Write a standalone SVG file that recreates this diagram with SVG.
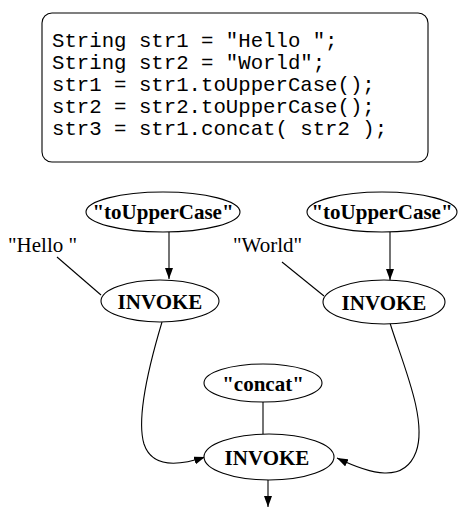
<svg xmlns="http://www.w3.org/2000/svg" width="459" height="508" viewBox="0 0 459 508">
  <style>
    .code { font-family: "Liberation Mono", "Courier New", monospace; font-size: 20.7px; fill: #000; }
    .node ellipse { fill: #fff; stroke: #000; stroke-width: 1.1; }
    .node text { font-family: "Liberation Serif", "Times New Roman", serif; font-weight: bold; font-size: 21px; text-anchor: middle; fill: #000; }
    .lbl { font-family: "Liberation Serif", "Times New Roman", serif; font-size: 21px; fill: #000; }
    .edge { fill: none; stroke: #000; stroke-width: 1.1; }
  </style>
  <defs>
    <marker id="arrow" markerUnits="userSpaceOnUse" markerWidth="11" markerHeight="8" refX="11" refY="4" orient="auto">
      <path d="M0,0 L11,4 L0,8 z" fill="#000"/>
    </marker>
  </defs>

  <!-- source code box -->
  <g id="code">
    <rect x="42" y="13" width="386" height="149" rx="10" ry="10" fill="#fff" stroke="#000" stroke-width="1.1"/>
    <text class="code" x="52" y="47">String str1 = "Hello ";</text>
    <text class="code" x="52" y="69">String str2 = "World";</text>
    <text class="code" x="52" y="91">str1 = str1.toUpperCase();</text>
    <text class="code" x="52" y="113">str2 = str2.toUpperCase();</text>
    <text class="code" x="52" y="135">str3 = str1.concat( str2 );</text>
  </g>

  <!-- connectors -->
  <g id="edges">
    <line class="edge" x1="169" y1="232" x2="169" y2="279" marker-end="url(#arrow)"/>
    <line class="edge" x1="390" y1="232" x2="390" y2="280" marker-end="url(#arrow)"/>
    <line class="edge" x1="57" y1="257" x2="101" y2="295"/>
    <line class="edge" x1="282" y1="262" x2="324" y2="296"/>
    <path class="edge" d="M162,322 C150,362 136,418 144,444 C152,468 178,466 205,457" marker-end="url(#arrow)"/>
    <path class="edge" d="M390,323 C402,362 428,420 416,452 C404,484 370,474 337,458" marker-end="url(#arrow)"/>
    <line class="edge" x1="263" y1="402" x2="263" y2="434"/>
    <line class="edge" x1="268" y1="480" x2="268" y2="507" marker-end="url(#arrow)"/>
  </g>

  <!-- free-standing string literals -->
  <text id="hello" class="lbl" x="8" y="252">"Hello "</text>
  <text id="world" class="lbl" x="233" y="252">"World"</text>

  <g id="upper1" class="node">
    <ellipse cx="163" cy="212" rx="77" ry="20"/>
    <text x="163" y="219">"toUpperCase"</text>
  </g>
  <g id="upper2" class="node">
    <ellipse cx="382" cy="212" rx="75" ry="20"/>
    <text x="382" y="219">"toUpperCase"</text>
  </g>
  <g id="invoke1" class="node">
    <ellipse cx="160" cy="301" rx="59" ry="21"/>
    <text x="160" y="309">INVOKE</text>
  </g>
  <g id="invoke2" class="node">
    <ellipse cx="384" cy="302" rx="61" ry="22"/>
    <text x="384" y="310">INVOKE</text>
  </g>
  <g id="concat" class="node">
    <ellipse cx="263" cy="383" rx="59" ry="19"/>
    <text x="263" y="391">"concat"</text>
  </g>
  <g id="invoke3" class="node">
    <ellipse cx="269" cy="457" rx="65" ry="23"/>
    <text x="267" y="465">INVOKE</text>
  </g>
</svg>
